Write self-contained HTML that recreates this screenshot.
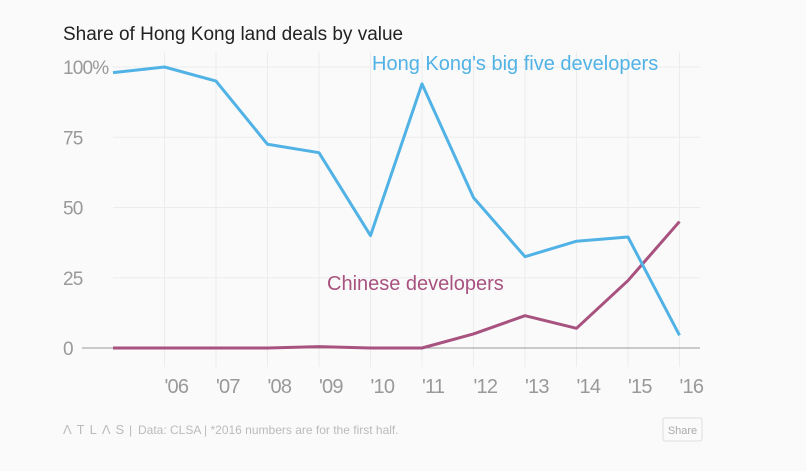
<!DOCTYPE html>
<html><head><meta charset="utf-8">
<style>
body{margin:0;background:#fafafa;width:806px;height:466px;overflow:hidden;font-family:"Liberation Sans",sans-serif}
</style></head>
<body>
<svg width="806" height="466">
<text x="63" y="40" font-size="19" fill="#222">Share of Hong Kong land deals by value</text>
<g id="grid"></g>
<g id="axes"></g>
<g id="lines"></g>
<text x="372" y="70" font-size="20" fill="#51b2e5">Hong Kong's big five developers</text>
<text x="327" y="290" font-size="20" fill="#a8527f">Chinese developers</text>
<text x="63" y="434" font-size="13" fill="#bbb" letter-spacing="5">ΛTLΛS</text>
<text x="129" y="434" font-size="12" fill="#bbb">|</text>
<text x="138" y="434" font-size="12" fill="#bbb">Data: CLSA | *2016 numbers are for the first half.</text>
<g>
<rect x="663" y="418" width="39" height="23" rx="2" fill="#fafafa" stroke="#ddd"/>
<text x="682.5" y="434" font-size="11" fill="#aaa" text-anchor="middle">Share</text>
</g>
</svg>
<script>
const years=[2005,2006,2007,2008,2009,2010,2011,2012,2013,2014,2015,2016];
const hkValues=[98,100,95,72.5,69.5,40,94,53.5,32.5,38,39.5,4.5];
const cnValues=[0,0,0,0,0.5,0,0,5,11.5,7,24,45];
const yTicks=[0,25,50,75,100];
const yTickLabels=["0","25","50","75","100%"];
const xTickLabels=["'06","'07","'08","'09","'10","'11","'12","'13","'14","'15","'16"];
const NS="http://www.w3.org/2000/svg";
const x=y=>113+(y-2005)*51.5;
const yS=v=>348-v*2.81;
function mk(tag,attrs,parent){const e=document.createElementNS(NS,tag);for(const k in attrs)e.setAttribute(k,attrs[k]);document.getElementById(parent).appendChild(e);return e;}
yTicks.forEach((t,i)=>{
  if(t>0){const g=mk('line',{x1:113,x2:700,y1:yS(t),y2:yS(t),stroke:'#ececec'},'grid');
  
  }
  const l=mk('text',{x:63,y:yS(t)+7,'font-size':19,'letter-spacing':-0.8,fill:'#999'},'axes');
  l.textContent=yTickLabels[i];
  
  
});
xTickLabels.forEach((s,i)=>{
  const xx=x(years[i+1]);
  const g=mk('line',{x1:xx,x2:xx,y1:52,y2:367,stroke:'#ececec'},'grid');
  
  
  const l=mk('text',{x:xx,y:393,'font-size':20,'letter-spacing':-0.8,fill:'#999'},'axes');
  l.textContent=s;
  
  
});
const z=mk('line',{x1:82,x2:700,y1:348,y2:348,stroke:'#999'},'axes');


function line(vals,color,name){
  const p=mk('polyline',{points:vals.map((v,i)=>x(years[i])+','+yS(v)).join(' '),fill:'none',stroke:color,'stroke-width':3,'stroke-linejoin':'round'},'lines');
  
  
}
line(cnValues,'#a8527f','chinese-developers-line');
line(hkValues,'#51b2e5','hk-developers-line');
</script>
</body></html>
